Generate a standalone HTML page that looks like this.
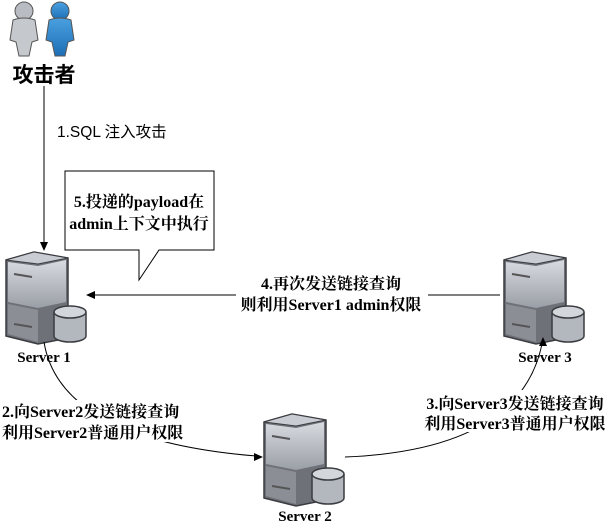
<!DOCTYPE html>
<html><head><meta charset="utf-8"><style>
body{margin:0;background:#fff}
svg{display:block}
.s{font-family:"Liberation Serif","Noto Serif CJK SC",serif;font-weight:bold;font-size:15px;fill:#000}
.t{font-family:"Liberation Serif","Noto Serif CJK SC",serif;font-weight:bold;font-size:16px;fill:#000}
</style></head><body>
<svg width="605" height="522" viewBox="0 0 605 522" xmlns="http://www.w3.org/2000/svg">
<defs>
<linearGradient id="g1" x1="0" y1="0" x2="0" y2="1"><stop offset="0" stop-color="#d8dbe0"/><stop offset="1" stop-color="#9a9ea6"/></linearGradient>
<linearGradient id="b1" x1="0" y1="0" x2="0" y2="1"><stop offset="0" stop-color="#4aa0e0"/><stop offset="1" stop-color="#1d6fb5"/></linearGradient>
<g id="srv">
<path d="M2 8 L30 0 L64 6 L64 86 L34 92 L2 84 Z" fill="#6e7178" stroke="#3a3c40" stroke-width="1.5"/>
<path d="M2 8 L30 0 L64 6 L34 12 Z" fill="#c9ccd2" stroke="#3a3c40" stroke-width="1"/>
<path d="M4 10 L34 14 L62 8 L62 50 L34 56 L4 50 Z" fill="url(#g1)"/>
<path d="M4 52 L34 58 L34 90 L4 82 Z" fill="#8b8e95"/>
<line x1="10" y1="22" x2="28" y2="25" stroke="#555" stroke-width="2"/>
<line x1="10" y1="72" x2="28" y2="75" stroke="#555" stroke-width="2"/>
<path d="M50 60 L50 84 A16 6 0 0 0 82 84 L82 60" fill="#b3b7be" stroke="#3a3c40" stroke-width="1.5"/>
<ellipse cx="66" cy="60" rx="16" ry="6" fill="#d3d6db" stroke="#3a3c40" stroke-width="1.5"/>
</g>
</defs>
<g stroke="#555" stroke-width="1">
<circle cx="24" cy="11" r="9" fill="#b9bcc2"/>
<path d="M13 20 Q24 16 35 20 L38 40 L32 42 L29 56 L19 56 L16 42 L10 40 Z" fill="#c5c8cd"/>
<circle cx="60" cy="11" r="9" fill="url(#b1)"/>
<path d="M49 20 Q60 16 71 20 L74 40 L68 42 L65 56 L55 56 L52 42 L46 40 Z" fill="url(#b1)"/>
</g>
<text x="44" y="82" text-anchor="middle" style="font-family:'Liberation Sans','Noto Sans CJK SC',sans-serif;font-weight:bold;font-size:21px">攻击者</text>
<line x1="44" y1="86" x2="44" y2="244" stroke="#000"/>
<path d="M40 242 L44 251 L48 242 Z" fill="#000"/>
<text x="57" y="137" style="font-family:'Liberation Sans','Noto Sans CJK SC',sans-serif;font-size:15.5px">1.SQL 注入攻击</text>
<path d="M65 171 L214 171 L214 250 L159 250 L139 280 L139 250 L65 250 Z" fill="#fff" stroke="#000"/>
<text x="139" y="207" text-anchor="middle" class="t">5.投递的payload在</text>
<text x="139" y="229" text-anchor="middle" class="t">admin上下文中执行</text>
<use href="#srv" x="4" y="252"/>
<use href="#srv" x="502" y="252"/>
<use href="#srv" x="262" y="414"/>
<text x="44" y="362" text-anchor="middle" class="s">Server 1</text>
<text x="545" y="362" text-anchor="middle" class="s">Server 3</text>
<text x="305" y="521" text-anchor="middle" class="s">Server 2</text>
<line x1="92" y1="295" x2="500" y2="295" stroke="#000"/>
<path d="M86 295 L95 291 L95 299 Z" fill="#000"/>
<rect x="236" y="272" width="192" height="42" fill="#fff"/>
<text x="331" y="289" text-anchor="middle" class="t">4.再次发送链接查询</text>
<text x="331" y="310" text-anchor="middle" class="t">则利用Server1 admin权限</text>
<path d="M44 342 Q60 440 256 456" fill="none" stroke="#000"/>
<path d="M263 457 L254 453 L254 461 Z" fill="#000"/>
<rect x="0" y="400" width="186" height="42" fill="#fff"/>
<text x="2" y="417" class="t">2.向Server2发送链接查询</text>
<text x="2" y="438" class="t">利用Server2普通用户权限</text>
<path d="M345 457 Q520 450 542 344" fill="none" stroke="#000"/>
<path d="M543 337 L539 346 L547 346 Z" fill="#000"/>
<rect x="420" y="390" width="185" height="42" fill="#fff"/>
<text x="515" y="409" text-anchor="middle" class="t">3.向Server3发送链接查询</text>
<text x="515" y="429" text-anchor="middle" class="t">利用Server3普通用户权限</text>
</svg>
</body></html>
